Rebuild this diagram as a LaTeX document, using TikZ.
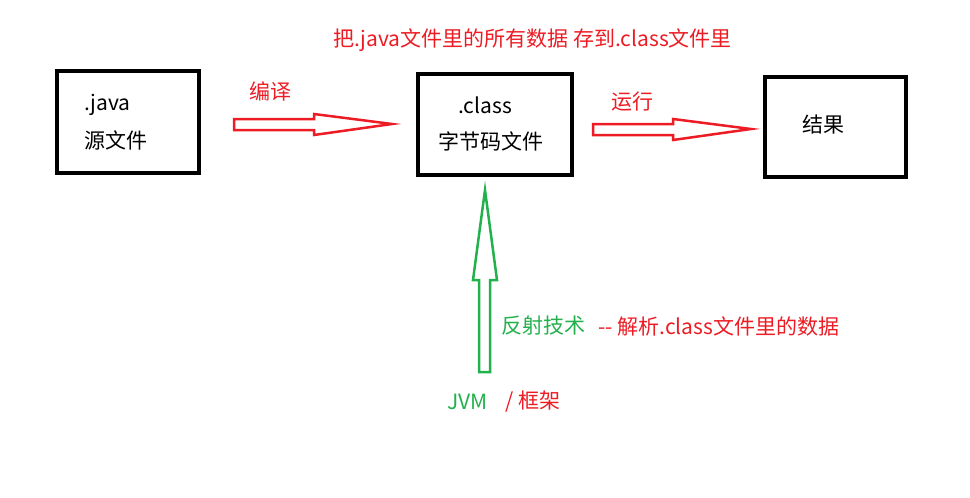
\documentclass[tikz,border=0pt]{standalone}
\usepackage{fontspec}
\setmainfont{Noto Sans CJK SC}
\definecolor{pred}{RGB}{237,28,36}
\definecolor{pgreen}{RGB}{34,177,76}
\begin{document}
\begin{tikzpicture}[x=1pt,y=-1pt,
  box/.style={draw=black,line width=3.5pt},
  txt/.style={inner sep=0pt,font=\fontsize{21}{24}\selectfont},
  redarrow/.style={draw=pred,line width=2.5pt,line join=miter},
  greenarrow/.style={draw=pgreen,line width=2.5pt,line join=miter}]
\useasboundingbox (0,0) rectangle (970,498);
% boxes
\draw[box] (57,71) rectangle (199,173);
\draw[box] (418,74) rectangle (572,175);
\draw[box] (765,77) rectangle (906,177);
% texts
\node[txt,anchor=west] (java) at (84,105) {.java};
\node[txt,anchor=west] (src) at (84,140) {源文件};
\node[txt,anchor=west] (cls) at (458,105) {.class};
\node[txt,anchor=west] (byt) at (438,141) {字节码文件};
\node[txt,anchor=west] (res) at (802,125) {结果};
\node[txt,anchor=west,text=pred] (top) at (333,40) {把.java文件里的所有数据 存到.class文件里};
\node[txt,anchor=west,text=pred] (compile) at (249,91) {编译};
\node[txt,anchor=west,text=pred] (run) at (611,102) {运行};
\node[txt,anchor=west,text=pgreen] (refl) at (501,326) {反射技术};
\node[txt,anchor=west,text=pred] (parse) at (598,326) {-{}- 解析.class文件里的数据};
\node[txt,anchor=west,text=pgreen] (jvm) at (447,402) {JVM};
\node[txt,anchor=west,text=pred] (frame) at (505,402) {/ 框架};
% hollow arrows
\draw[redarrow] (234,119) -- (314,119) -- (314,114) -- (392,124) -- (314,135) -- (314,130) -- (234,130) -- cycle;
\draw[redarrow] (593,124) -- (673,124) -- (673,119) -- (751,129) -- (673,140) -- (673,135) -- (593,135) -- cycle;
\draw[greenarrow] (479,372) -- (479,280) -- (473,280) -- (485,190) -- (497,280) -- (490,280) -- (490,372) -- cycle;
\end{tikzpicture}
\end{document}
